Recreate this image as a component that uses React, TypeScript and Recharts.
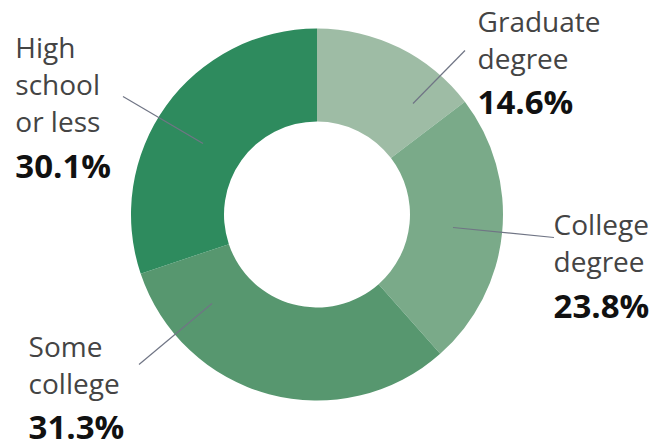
import { PieChart, Pie, Cell } from "recharts";

const categories = ["Graduate degree", "College degree", "Some college", "High school or less"];
const shares = [14.6, 23.8, 31.3, 30.1];
const labelWords = [
  ["Graduate", "degree"],
  ["College", "degree"],
  ["Some", "college"],
  ["High", "school", "or less"],
];
const colors = ["#9ebca5", "#7aaa89", "#57976f", "#2e8b5e"];

// leader line + text anchor, relative to pie centre
const labelLayout = [
  { x1: 96, y1: -111, x2: 148, y2: -164, tx: 160.6, ty: -182.8 },
  { x1: 136, y1: 13, x2: 237, y2: 23, tx: 236.6, ty: 20.5 },
  { x1: -105, y1: 89, x2: -178, y2: 150, tx: -288.4, ty: 142.2 },
  { x1: -114, y1: -71, x2: -194, y2: -118, tx: -301.7, ty: -156.5 },
];

const chartData = categories.map((name, i) => ({ name, value: shares[i] }));

const FONT = "'Open Sans', 'Noto Sans', sans-serif";
const LINE_STEP = 37;
const BOLD_GAP = 45.5;

function renderLabel(props: any) {
  const { cx, cy, index, value } = props;
  const l = labelLayout[index];
  const words = labelWords[index];
  return (
    <g key={`lbl-${index}`}>
      <line x1={cx + l.x1} y1={cy + l.y1} x2={cx + l.x2} y2={cy + l.y2} stroke="#707585" strokeWidth={1.2} />
      <text x={cx + l.tx} y={cy + l.ty} fontFamily={FONT} fontSize={28} fill="#444">
        {words.map((w, i) => (
          <tspan key={i} x={cx + l.tx} dy={i === 0 ? 0 : LINE_STEP}>
            {w}
          </tspan>
        ))}
      </text>
      <text
        x={cx + l.tx}
        y={cy + l.ty + (words.length - 1) * LINE_STEP + BOLD_GAP}
        fontFamily={FONT}
        fontSize={33}
        fontWeight={700}
        fill="#111"
      >
        {`${Number(value).toFixed(1)}%`}
      </text>
    </g>
  );
}

export default function App() {
  return (
    <div style={{ position: "absolute", left: 0, top: 0, width: 657, height: 443, background: "#fff" }}>
      <PieChart width={657} height={443} margin={{ top: 0, right: 0, bottom: 0, left: 0 }}>
        <Pie
          data={chartData}
          dataKey="value"
          nameKey="name"
          cx={317}
          cy={214.5}
          innerRadius={93}
          outerRadius={186}
          startAngle={90}
          endAngle={-270}
          stroke="none"
          label={renderLabel}
          labelLine={false}
          isAnimationActive={false}
        >
          {chartData.map((d, i) => (
            <Cell key={d.name} fill={colors[i]} />
          ))}
        </Pie>
      </PieChart>
    </div>
  );
}
